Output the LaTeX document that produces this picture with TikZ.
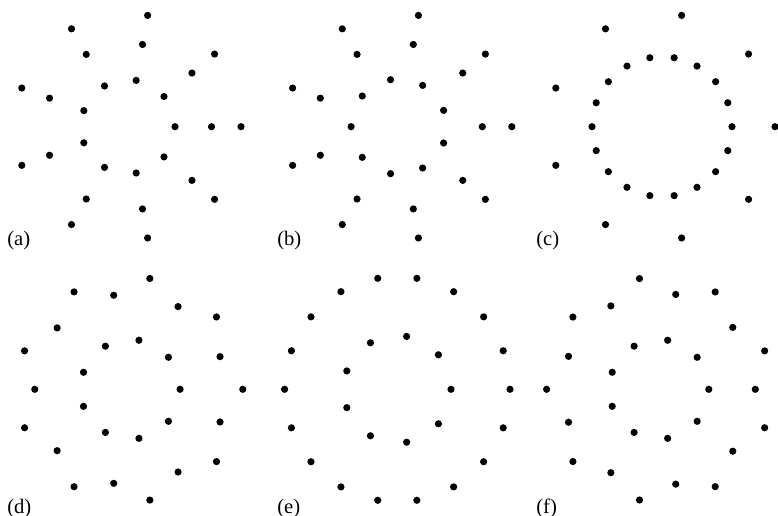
\documentclass[tikz,border=0pt]{standalone}
\usepackage{fontspec}
\setmainfont{Liberation Serif}
\usetikzlibrary{calc}

\begin{document}
\begin{tikzpicture}[
  x=0.75pt, y=-0.75pt,
  dot/.style={circle, fill=black, inner sep=0pt, minimum size=5.4pt},
  lab/.style={font=\fontsize{15.5}{18}\selectfont, anchor=base west, inner sep=0pt}
]
\useasboundingbox (0,0) rectangle (778,516);
% centres of the six patterns
\coordinate (ca) at (128,126.7);
\coordinate (cb) at (398.8,126.7);
\coordinate (cc) at (662,126.7);
\coordinate (cd) at (130.3,389.3);
\coordinate (ce) at (397.3,389.3);
\coordinate (cf) at (659,389.3);
% (a) three rings of nine
\foreach \k in {0,...,8} {
  \node[dot] (a-in-\k)  at ($(ca)+(\k*40:47)$) {};
  \node[dot] (a-mid-\k) at ($(ca)+(\k*40:83.5)$) {};
  \node[dot] (a-out-\k) at ($(ca)+(\k*40:113)$) {};
}
% (b) inner ring turned by half a step
\foreach \k in {0,...,8} {
  \node[dot] (b-in-\k)  at ($(cb)+(20+\k*40:47.7)$) {};
  \node[dot] (b-mid-\k) at ($(cb)+(\k*40:83.5)$) {};
  \node[dot] (b-out-\k) at ($(cb)+(\k*40:113)$) {};
}
% (c) ring of eighteen inside ring of nine
\foreach \k in {0,...,17}
  \node[dot] (c-in-\k) at ($(cc)+(\k*20:70)$) {};
\foreach \k in {0,...,8}
  \node[dot] (c-out-\k) at ($(cc)+(\k*40:113)$) {};
% (d)
\foreach \k in {0,...,8} {
  \node[dot] (d-in-\k)  at ($(cd)+(\k*40:49.8)$) {};
  \node[dot] (d-out-\k) at ($(cd)+(\k*40:112.5)$) {};
  \node[dot] (d-mid-\k) at ($(cd)+(20+\k*40:95.5)$) {};
}
% (e)
\foreach \k in {0,...,8}
  \node[dot] (e-in-\k) at ($(ce)+(\k*40:53.7)$) {};
\foreach \k in {0,...,17}
  \node[dot] (e-out-\k) at ($(ce)+(\k*20:112.7)$) {};
% (f)
\foreach \k in {0,...,8} {
  \node[dot] (f-in-\k)  at ($(cf)+(\k*40:49.8)$) {};
  \node[dot] (f-mid-\k) at ($(cf)+(\k*40:96.3)$) {};
  \node[dot] (f-out-\k) at ($(cf)+(20+\k*40:112.4)$) {};
}
% panel labels
\node[lab] (lab-a) at (7,245.5) {(a)};
\node[lab] (lab-b) at (277,245.5) {(b)};
\node[lab] (lab-c) at (536,245.5) {(c)};
\node[lab] (lab-d) at (7,513.5) {(d)};
\node[lab] (lab-e) at (277,513.5) {(e)};
\node[lab] (lab-f) at (536,513.5) {(f)};
\end{tikzpicture}
\end{document}
